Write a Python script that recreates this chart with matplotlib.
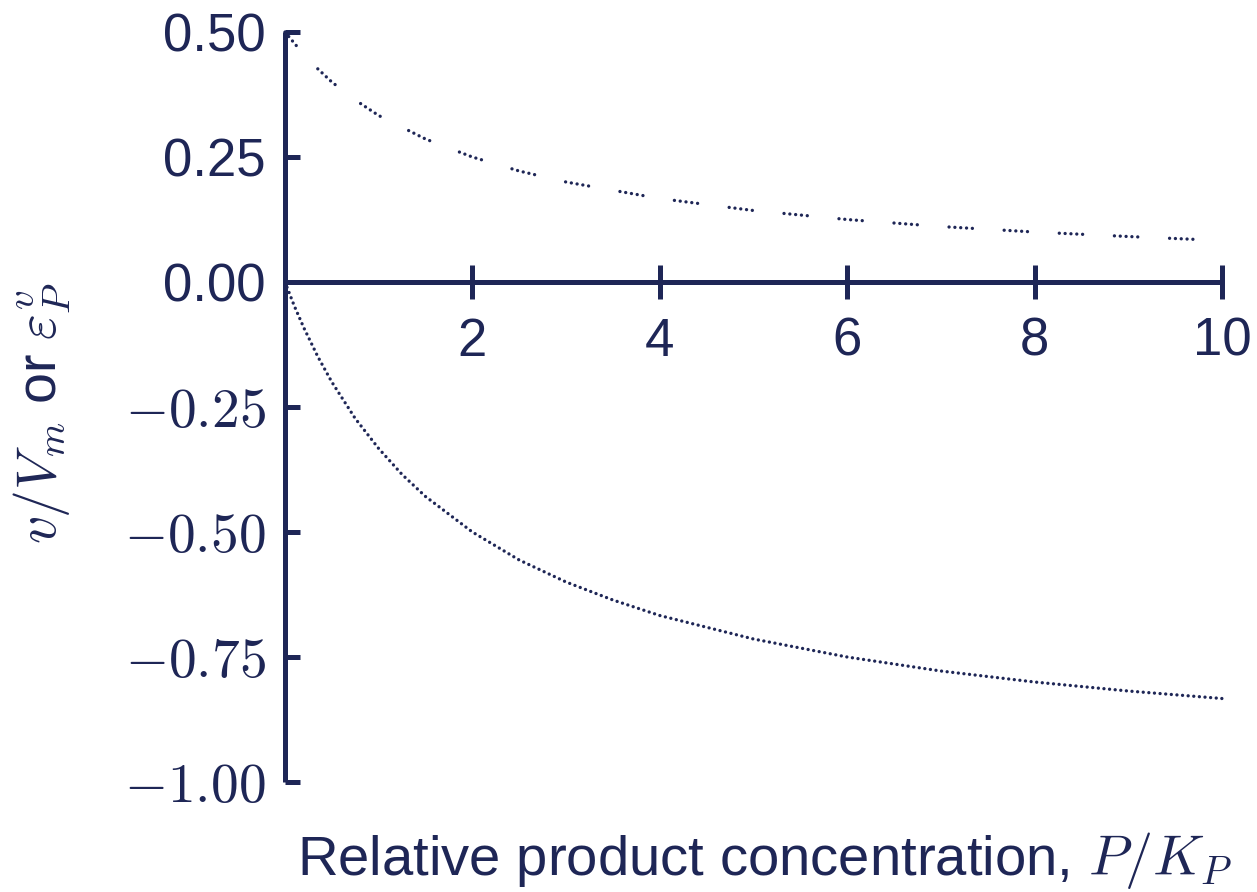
import matplotlib
matplotlib.use("Agg")
import matplotlib.pyplot as plt

NAVY = "#1e2656"

# relative product concentration P/K_P
rate_p = [0.0, 0.25, 0.5, 0.75, 1.0, 1.5, 2.0, 2.5, 3.0, 4.0, 5.0, 6.0, 7.0, 8.0, 9.0, 10.0]
# v/V_m
rate_v = [0.500, 0.444, 0.400, 0.364, 0.333, 0.286, 0.250, 0.222, 0.200, 0.167,
          0.143, 0.125, 0.111, 0.100, 0.091, 0.083]

elast_p = [0.0, 0.1, 0.2, 0.35, 0.5, 0.75, 1.0, 1.25, 1.5, 2.0, 2.5, 3.0, 3.5, 4.0,
           5.0, 6.0, 7.0, 8.0, 9.0, 10.0]
# elasticity of v with respect to P
elast_v = [0.0, -0.048, -0.091, -0.149, -0.200, -0.273, -0.333, -0.385, -0.429, -0.500,
           -0.556, -0.600, -0.636, -0.667, -0.714, -0.750, -0.778, -0.800, -0.818, -0.833]

x_ticks = [2, 4, 6, 8, 10]
y_ticks = [0.5, 0.25, 0.0, -0.25, -0.5, -0.75, -1.0]
y_tick_labels = ["0.50", "0.25", "0.00", r"$-0.25$", r"$-0.50$", r"$-0.75$", r"$-1.00$"]

plt.rcParams["font.family"] = ["Liberation Sans", "DejaVu Sans"]
plt.rcParams["mathtext.fontset"] = "cm"

fig = plt.figure(figsize=(12.57, 8.92), dpi=100)
ax = fig.add_axes([0.2267, 0.1233, 0.7455, 0.8408])

# groups of five dots for the rate, a plain dotted line for the elasticity
group_dash = (0.01, 1.74, 0.01, 1.74, 0.01, 1.74, 0.01, 1.74, 0.01, 9.55)
ax.plot(rate_p, rate_v, color=NAVY, linewidth=2.4, dash_capstyle="round",
        linestyle=(1.74, group_dash), clip_on=False)
ax.plot(elast_p, elast_v, color=NAVY, linewidth=2.4, dash_capstyle="round",
        linestyle=(0, (0.01, 1.68)), clip_on=False)

ax.set_xlim(0, 10)
ax.set_ylim(-1.0, 0.5)

for side in ("top", "right"):
    ax.spines[side].set_visible(False)
ax.spines["bottom"].set_position(("data", 0))
ax.spines["left"].set_position(("data", 0))
for side in ("bottom", "left"):
    ax.spines[side].set_color(NAVY)
    ax.spines[side].set_linewidth(3.6)
    ax.spines[side].set_capstyle("butt")

ax.set_xticks(x_ticks)
ax.set_xticklabels([str(t) for t in x_ticks])
ax.set_yticks(y_ticks)
ax.set_yticklabels(y_tick_labels)

ax.tick_params(axis="x", direction="inout", length=24, width=3.6, colors=NAVY,
               labelsize=38, pad=13)
ax.tick_params(axis="y", direction="in", length=11, width=3.6, colors=NAVY,
               labelsize=38, pad=14)
for label in ax.get_yticklabels():
    if "$" in label.get_text():
        label.set_fontsize(40)

fig.text(0.2363, 0.019, r"Relative product concentration, $P/K_P$", color=NAVY,
         fontsize=40.5, ha="left", va="baseline")
fig.text(0.034, 0.537, r"$v/V_m$ or $\varepsilon^v_P$", color=NAVY, fontsize=40,
         ha="center", va="center", rotation=90)

fig.savefig("out.png", dpi=100, facecolor="white")
